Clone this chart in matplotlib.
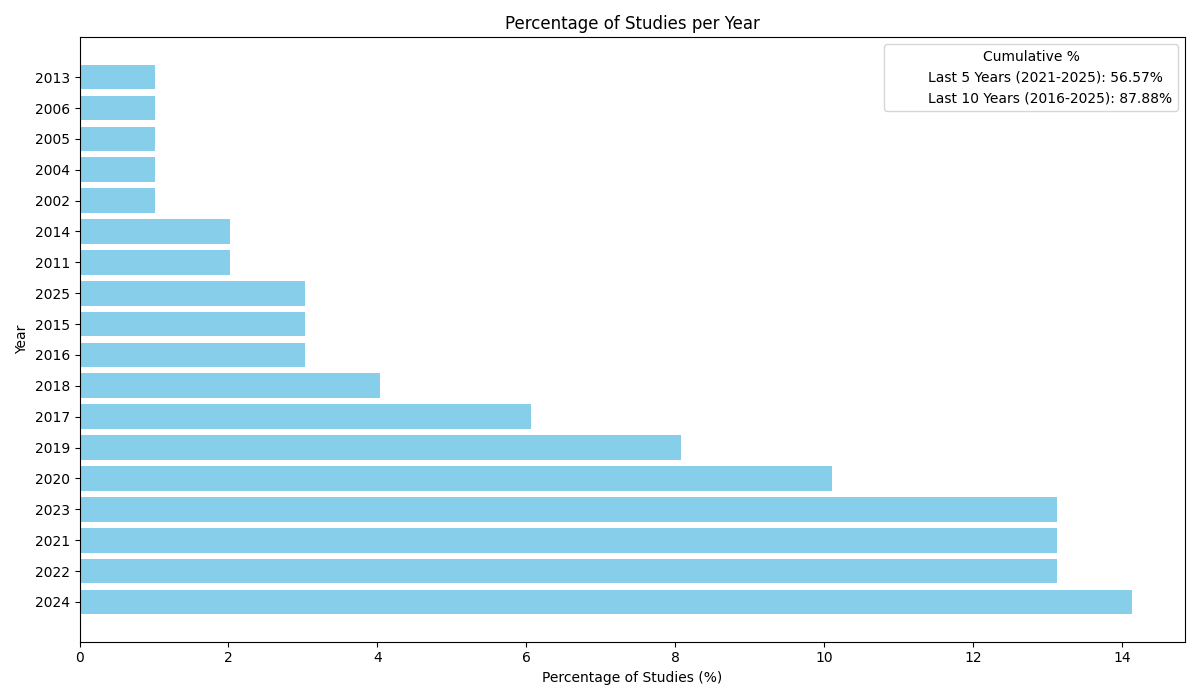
import matplotlib
matplotlib.use("Agg")
import matplotlib.pyplot as plt

years = ["2024", "2022", "2021", "2023", "2020", "2019", "2017", "2018", "2016",
         "2015", "2025", "2011", "2014", "2002", "2004", "2005", "2006", "2013"]
percentages = [14.14, 13.13, 13.13, 13.13, 10.10, 8.08, 6.06, 4.04, 3.03,
               3.03, 3.03, 2.02, 2.02, 1.01, 1.01, 1.01, 1.01, 1.01]
legend_labels = ["Last 5 Years (2021-2025): 56.57%",
                 "Last 10 Years (2016-2025): 87.88%"]

fig, ax = plt.subplots(figsize=(12, 7), dpi=100)
ax.barh(years, percentages, color="skyblue")
for lab in legend_labels:
    ax.plot([], [], " ", label=lab)
ax.legend(title="Cumulative %", loc="upper right")
ax.set_title("Percentage of Studies per Year")
ax.set_xlabel("Percentage of Studies (%)")
ax.set_ylabel("Year")
fig.tight_layout()
fig.savefig("out.png")
